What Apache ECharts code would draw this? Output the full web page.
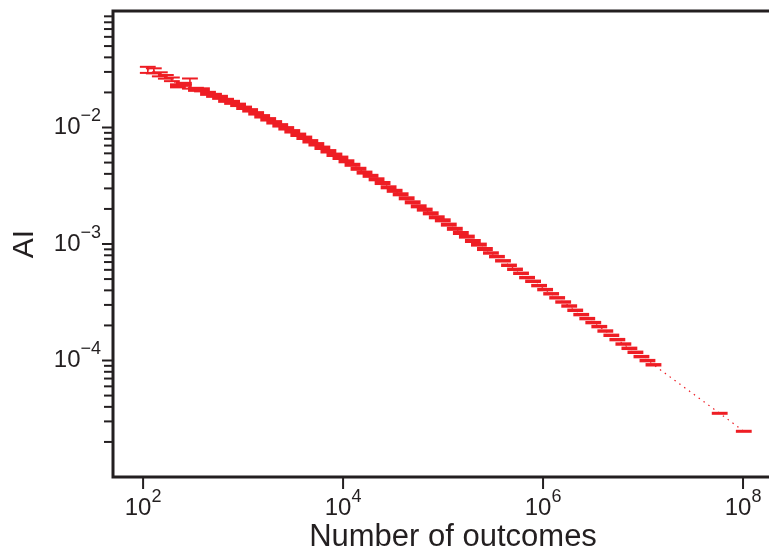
<!DOCTYPE html>
<html>
<head>
<meta charset="utf-8">
<script src="https://cdn.jsdelivr.net/npm/echarts@6/dist/echarts.min.js"></script>
<style>
  html, body { margin: 0; padding: 0; background: #fff; }
  #chart { width: 769px; height: 552px; }
</style>
</head>
<body>
<div id="chart"></div>
<script>
// Bin centres: number of outcomes
const outcomes = [
  111.4, 128, 147.0, 168.9, 194.0,
  222.9, 256, 294.1, 337.8, 388.0,
  445.7, 512, 588.1, 675.6, 776.0,
  891.4, 1024, 1176, 1351, 1552,
  1783, 2048, 2353, 2702, 3104,
  3566, 4096, 4705, 5405, 6208,
  7132, 8192, 9410, 10809, 12417,
  14263, 16384, 18820, 21619, 24834,
  28526, 32768, 37641, 43238, 49667,
  57052, 65536, 75281, 86475, 99334,
  114105, 131072, 150562, 172951, 198668,
  228209, 262144, 301124, 345901, 397336,
  456419, 524288, 602249, 691802, 794672,
  912838, 1048576, 1204498, 1383604, 1589344,
  1825676, 2097152, 2408995, 2767208, 3178688,
  3651351, 4194304, 4817990, 5534417, 6357376,
  7302702, 8388608, 9635980, 11068834, 12714752,
  58422089, 101717986
];

// AI measured in each bin
const aiValues = [
  0.0313, 0.03067, 0.02862, 0.02724, 0.02593,
  0.02279, 0.02348, 0.02395, 0.02127, 0.02106,
  0.01965, 0.01889, 0.01816, 0.01712, 0.01645,
  0.01565, 0.01476, 0.01404, 0.01323, 0.01248,
  0.01176, 0.01108, 0.01044, 0.009842, 0.009277,
  0.008659, 0.008161, 0.007616, 0.007177, 0.006698,
  0.006251, 0.005833, 0.005496, 0.005129, 0.004786,
  0.004422, 0.004101, 0.003848, 0.003592, 0.003338,
  0.003067, 0.002862, 0.002671, 0.002468, 0.002279,
  0.002106, 0.001973, 0.001834, 0.001695, 0.001597,
  0.001467, 0.001350, 0.001243, 0.001157, 0.001061,
  0.0009881, 0.0009057, 0.0008370, 0.0007793, 0.0007174,
  0.0006565, 0.0006066, 0.0005604, 0.0005149, 0.0004784,
  0.0004394, 0.0004061, 0.0003738, 0.0003453, 0.0003178,
  0.0002937, 0.0002698, 0.0002477, 0.0002289, 0.0002115,
  0.0001954, 0.0001791, 0.0001645, 0.0001511, 0.0001385,
  0.0001272, 0.0001176, 0.0001080, 0.00009979, 0.00009187,
  0.00003522, 0.00002468
];

// Relative error of each AI value
const relErr = [
  0.06, 0.05, 0.04, 0.036, 0.036,
  0.03, 0.03, 0.10, 0.03, 0.03,
  0.03, 0.03, 0.03, 0.03, 0.03,
  0.024, 0.024, 0.024, 0.024, 0.024,
  0.024, 0.024, 0.024, 0.024, 0.024,
  0.024, 0.024, 0.024, 0.024, 0.024,
  0.024, 0.024, 0.024, 0.02, 0.02,
  0.02, 0.02, 0.02, 0.02, 0.02,
  0.02, 0.02, 0.02, 0.02, 0.02,
  0.02, 0.02, 0.02, 0.02, 0.02,
  0.02, 0.02, 0.02, 0.02, 0.02,
  0.02, 0.02, 0.014, 0.014, 0.014,
  0.014, 0.014, 0.014, 0.014, 0.014,
  0.014, 0.014, 0.014, 0.014, 0.014,
  0.014, 0.014, 0.014, 0.014, 0.014,
  0.014, 0.014, 0.014, 0.014, 0.014,
  0.014, 0.014, 0.014, 0.014, 0.014,
  0.01, 0.01
];

// Bins span centre / BIN_FACTOR .. centre * BIN_FACTOR
const BIN_FACTOR = 1.2;

// Axis ranges and ticks
const X_MIN = 50, X_MAX = 3.16e8;
const Y_MIN = 1e-5, Y_MAX = 1e-1;
const xTicks = [1e2, 1e4, 1e6, 1e8];
const yTicks = [1e-4, 1e-3, 1e-2];
const yMinorTicks = [];
for (let e = -5; e <= -2; e++) {
  for (let m = 2; m <= 9; m++) yMinorTicks.push(m * Math.pow(10, e));
}

const RED = '#ee1d24';
const INK = '#231f20';
const FONT = 'Liberation Sans, Arial, Helvetica, sans-serif';

function exponentOf(v, allowed) {
  const e = Math.log10(v);
  const r = Math.round(e);
  if (Math.abs(e - r) > 1e-6) return null;
  return allowed.some(t => Math.round(Math.log10(t)) === r) ? r : null;
}
function powerLabel(r) {
  return '{b|10}{s|' + (r < 0 ? '\u2212' + (-r) : String(r)) + '}';
}
const richPow = {
  b: { fontSize: 24, fontFamily: FONT, color: INK, verticalAlign: 'bottom', lineHeight: 30, padding: [0, 0, 8, 0] },
  s: { fontSize: 18, fontFamily: FONT, color: INK, verticalAlign: 'top', padding: [0, 0, 22, 0] }
};

const chart = echarts.init(document.getElementById('chart'), null, { renderer: 'canvas' });

chart.setOption({
  animation: false,
  backgroundColor: '#fff',
  grid: {
    left: 113, top: 11, width: 680, height: 466,
    outerBoundsMode: 'none',
    containLabel: false,
    show: true, borderColor: INK, borderWidth: 3, backgroundColor: 'transparent'
  },
  xAxis: {
    type: 'log', logBase: 10, min: X_MIN, max: X_MAX,
    axisLine: { show: false },
    axisTick: { show: false },
    splitLine: { show: false },
    axisLabel: {
      margin: 11,
      formatter: v => { const r = exponentOf(v, xTicks); return r === null ? '' : powerLabel(r); },
      rich: richPow
    },
    name: 'Number of outcomes',
    nameLocation: 'middle',
    nameMoveOverlap: false,
    nameGap: 45,
    nameTextStyle: { fontSize: 31, fontFamily: FONT, color: INK, verticalAlign: 'top' }
  },
  yAxis: {
    type: 'log', logBase: 10, min: Y_MIN, max: Y_MAX,
    axisLine: { show: false },
    axisTick: { show: false },
    splitLine: { show: false },
    axisLabel: {
      margin: 12,
      formatter: v => { const r = exponentOf(v, yTicks); return r === null ? '' : powerLabel(r); },
      rich: richPow
    },
    name: 'AI',
    nameLocation: 'middle',
    nameMoveOverlap: false,
    nameRotate: 90,
    nameGap: 73,
    nameTextStyle: { fontSize: 30, fontFamily: FONT, color: INK, verticalAlign: 'bottom' }
  },
  series: [
    {
      // dotted guide through the bin centres
      type: 'line',
      data: outcomes.map((x, i) => [x, aiValues[i]]),
      symbol: 'none',
      silent: true,
      z: 1,
      lineStyle: { color: RED, width: 1.2, type: [1.5, 4.5] }
    },
    {
      // bins with vertical error bars
      type: 'custom',
      silent: true,
      z: 3,
      data: outcomes.map((x, i) => [x, aiValues[i], relErr[i]]),
      encode: { x: 0, y: 1 },
      renderItem: (params, api) => {
        const x = api.value(0), y = api.value(1), r = api.value(2);
        const hi = api.coord([x, y * (1 + r)]);
        const lo = api.coord([x, y * (1 - r)]);
        const xl = api.coord([x / BIN_FACTOR, y])[0];
        const xr = api.coord([x * BIN_FACTOR, y])[0];
        if (lo[1] - hi[1] < 3.5) {
          // caps merge into one solid bar
          return {
            type: 'rect',
            shape: { x: xl, y: hi[1] - 1, width: xr - xl, height: lo[1] - hi[1] + 2 },
            style: { fill: RED }
          };
        }
        const st = { stroke: RED, lineWidth: 2, fill: null };
        return {
          type: 'group',
          children: [
            { type: 'line', shape: { x1: xl, y1: hi[1], x2: xr, y2: hi[1] }, style: st },
            { type: 'line', shape: { x1: xl, y1: lo[1], x2: xr, y2: lo[1] }, style: st },
            { type: 'line', shape: { x1: hi[0], y1: hi[1], x2: hi[0], y2: lo[1] }, style: { stroke: RED, lineWidth: 1.6 } }
          ]
        };
      }
    },
    {
      // y axis ticks, major and minor, outside the frame
      type: 'custom',
      silent: true,
      clip: false,
      z: 4,
      data: yTicks.map(v => [X_MIN, v, 1]).concat(yMinorTicks.map(v => [X_MIN, v, 0])),
      encode: { x: 0, y: 1 },
      renderItem: (params, api) => {
        const p = api.coord([api.value(0), api.value(1)]);
        const len = api.value(2) ? 11 : 9;
        return { type: 'line', shape: { x1: p[0] - len, y1: p[1], x2: p[0], y2: p[1] }, style: { stroke: INK, lineWidth: 2 } };
      }
    },
    {
      // x axis ticks below the frame
      type: 'custom',
      silent: true,
      clip: false,
      z: 4,
      data: xTicks.map(v => [v, Y_MIN]),
      encode: { x: 0, y: 1 },
      renderItem: (params, api) => {
        const p = api.coord([api.value(0), api.value(1)]);
        return { type: 'line', shape: { x1: p[0], y1: p[1], x2: p[0], y2: p[1] + 12 }, style: { stroke: INK, lineWidth: 2 } };
      }
    }
  ]
});
</script>
</body>
</html>
